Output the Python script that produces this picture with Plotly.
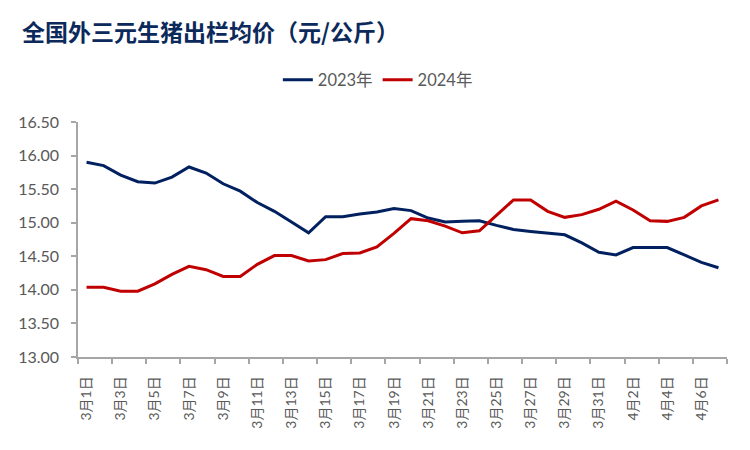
import plotly.graph_objects as go

categories = [f"3月{d}日" for d in range(1, 32)] + [f"4月{d}日" for d in range(1, 8)]

series_2023 = [15.90, 15.85, 15.71, 15.61, 15.59, 15.68, 15.83, 15.74, 15.58, 15.47,
               15.30, 15.17, 15.01, 14.85, 15.09, 15.09, 15.13, 15.16, 15.21, 15.18,
               15.07, 15.01, 15.02, 15.03, 14.96, 14.90, 14.87, 14.85, 14.82, 14.70,
               14.56, 14.52, 14.63, 14.63, 14.63, 14.52, 14.41, 14.33]

series_2024 = [14.04, 14.04, 13.98, 13.98, 14.09, 14.23, 14.35, 14.30, 14.20, 14.20,
               14.38, 14.51, 14.51, 14.43, 14.45, 14.54, 14.55, 14.64, 14.84, 15.06,
               15.03, 14.95, 14.85, 14.88, 15.11, 15.34, 15.34, 15.17, 15.08, 15.12,
               15.20, 15.32, 15.19, 15.03, 15.02, 15.08, 15.25, 15.34]

series_names = ["2023年", "2024年"]
y_ticks = [13.0, 13.5, 14.0, 14.5, 15.0, 15.5, 16.0, 16.5]
title_text = "全国外三元生猪出栏均价（元/公斤）"

idx = list(range(len(categories)))
label_idx = idx[::2]
label_text = [categories[i] for i in label_idx]
boundaries = [i - 0.5 for i in range(0, len(categories) + 1, 2)]

fig = go.Figure()
fig.add_trace(go.Scatter(x=idx, y=series_2023, mode="lines", name=series_names[0],
                         line=dict(color="#002060", width=3)))
fig.add_trace(go.Scatter(x=idx, y=series_2024, mode="lines", name=series_names[1],
                         line=dict(color="#C00000", width=3)))

grey = "#595959"
fig.update_layout(
    width=750, height=450,
    margin=dict(l=78, r=23, t=122, b=93, autoexpand=False),
    paper_bgcolor="white", plot_bgcolor="white",
    title=dict(text=title_text, xref="container", yref="container",
               x=22 / 750, y=1 - 33 / 450, xanchor="left", yanchor="middle",
               font=dict(family="Noto Sans CJK SC", size=23, color="#0B2A5B", weight="bold")),
    legend=dict(orientation="h", x=0.462, y=1.179, xanchor="center", yanchor="middle",
                font=dict(family="Lato, Noto Sans CJK SC", size=16.5, color=grey),
                bgcolor="rgba(0,0,0,0)"),
    showlegend=True,
)
fig.update_xaxes(
    range=[-0.5, len(categories) - 0.5],
    tickmode="array", tickvals=label_idx, ticktext=label_text,
    tickangle=-90, ticks="", ticklen=0, ticklabelstandoff=12,
    tickfont=dict(family="Lato, Noto Sans CJK SC", size=14, color=grey),
    showline=True, linecolor="#A6A6A6", linewidth=1.5,
    showgrid=False, zeroline=False,
    minor=dict(tickmode="array", tickvals=boundaries, ticks="outside",
               ticklen=5, tickcolor="#A6A6A6", tickwidth=1.5, showgrid=False),
)
fig.update_yaxes(
    range=[13.0, 16.5],
    tickmode="array", tickvals=y_ticks, ticktext=[f"{v:.2f}" for v in y_ticks],
    ticks="outside", ticklen=5, tickcolor="#A6A6A6", tickwidth=1.5,
    ticklabelstandoff=9,
    tickfont=dict(family="Lato", size=16, color=grey),
    showline=True, linecolor="#A6A6A6", linewidth=1.5,
    showgrid=False, zeroline=False,
)

fig.write_html("out.html", config={"displayModeBar": False},
               post_script="document.body.style.margin='0';")
